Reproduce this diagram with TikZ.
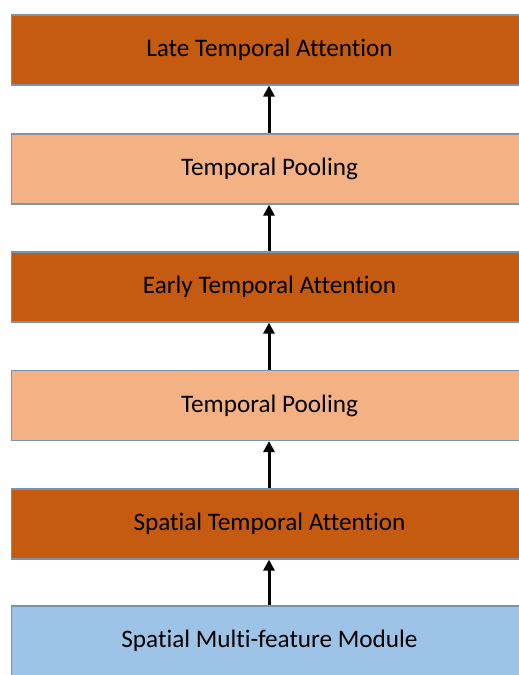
\documentclass[tikz,border=0pt]{standalone}
\usepackage{fontspec}
\setmainfont[Ligatures={NoCommon,NoRare,NoContextual}]{Carlito}
\usetikzlibrary{arrows.meta}
\definecolor{darkor}{HTML}{C55A11}
\definecolor{lightor}{HTML}{F4B183}
\definecolor{lblue}{HTML}{9DC3E6}
\definecolor{edgec}{HTML}{7A93B0}
\newcommand{\lowtxt}[1]{\raisebox{-2pt}{#1}}
\begin{document}
\begin{tikzpicture}[x=1pt,y=1pt,
  blk/.style={draw=edgec,line width=1.2pt,minimum width=516pt,minimum height=70pt,inner sep=0pt,font=\fontsize{25.2}{28}\selectfont,text=black},
  arr/.style={-{Triangle[length=11pt,width=11pt]},line width=3pt,black}]
\useasboundingbox (0,0) rectangle (519,675);
\clip (0,0) rectangle (519,675);
\node[blk,fill=darkor] (b1) at (269.5,625) {\lowtxt{Late Temporal Attention}};
\node[blk,fill=lightor] (b2) at (269.5,506) {\lowtxt{Temporal Pooling}};
\node[blk,fill=darkor] (b3) at (269.5,388) {\lowtxt{Early Temporal Attention}};
\node[blk,fill=lightor] (b4) at (269.5,269.5) {\lowtxt{Temporal Pooling}};
\node[blk,fill=darkor] (b5) at (269.5,151) {\lowtxt{Spatial Temporal Attention}};
\node[blk,fill=lblue] (b6) at (269.5,34) {\lowtxt{Spatial Multi-feature Module}};
\draw[arr] (b2.north -| 269,0) -- (b1.south -| 269,0);
\draw[arr] (b3.north -| 269,0) -- (b2.south -| 269,0);
\draw[arr] (b4.north -| 269,0) -- (b3.south -| 269,0);
\draw[arr] (b5.north -| 269,0) -- (b4.south -| 269,0);
\draw[arr] (b6.north -| 269,0) -- (b5.south -| 269,0);
\end{tikzpicture}
\end{document}
